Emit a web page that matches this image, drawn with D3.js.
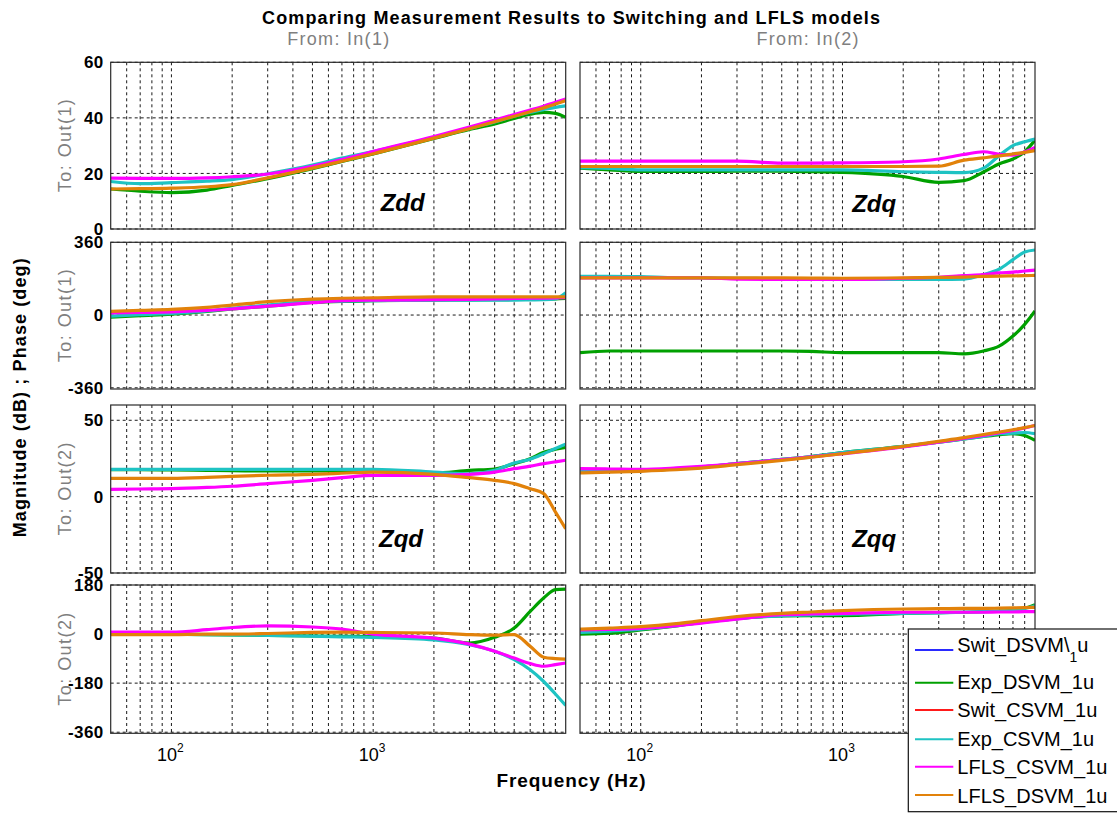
<!DOCTYPE html>
<html>
<head>
<meta charset="utf-8">
<script src="https://cdn.jsdelivr.net/npm/d3@7"></script>
<style>
  html, body { margin: 0; padding: 0; background: #ffffff; }
  svg { display: block; font-family: "Liberation Sans", Arial, Helvetica, sans-serif; }
</style>
</head>
<body>
<svg id="chart" width="1117" height="814"></svg>
<script>
// ---- Frequency points (Hz) shared by every response curve ----
const freqHz = [50, 70, 100, 150, 200, 300, 500, 700, 1000, 2000, 3000, 4000, 5000, 6000, 7000, 8000, 9000];

// ---- Zdd : magnitude (dB) ----
const zddMagExpDSVM  = [14.4, 13.6, 13.1, 14.0, 15.7, 18.1, 21.7, 24.3, 27.0, 32.6, 35.8, 37.8, 39.8, 41.3, 42.0, 41.6, 40.2];
const zddMagExpCSVM  = [17.1, 16.3, 16.7, 17.2, 17.8, 19.9, 23.0, 25.5, 27.9, 33.0, 36.2, 38.5, 40.6, 42.0, 43.0, 43.8, 44.3];
const zddMagLflsCSVM = [18.3, 18.2, 18.2, 18.4, 18.8, 19.8, 22.6, 25.0, 27.9, 33.3, 36.7, 39.2, 41.2, 42.8, 44.2, 45.6, 46.8];
const zddMagLflsDSVM = [14.4, 14.5, 14.7, 15.2, 16.0, 18.4, 21.9, 24.4, 27.1, 32.7, 36.1, 38.6, 40.6, 42.2, 43.6, 45.0, 46.2];

// ---- Zdq : magnitude (dB) ----
const zdqMagExpDSVM  = [21.9, 21.3, 20.7, 20.7, 20.7, 20.8, 20.8, 20.6, 20.4, 18.9, 16.8, 17.4, 20.5, 23.5, 25.2, 27.8, 32.0];
const zdqMagExpCSVM  = [22.1, 21.8, 21.3, 21.3, 21.3, 21.3, 21.3, 21.3, 21.3, 20.6, 20.4, 20.3, 21.9, 26.5, 30.0, 31.4, 32.4];
const zdqMagLflsCSVM = [24.4, 24.4, 24.4, 24.4, 24.4, 24.4, 23.7, 23.7, 23.8, 24.2, 25.2, 26.8, 27.8, 26.9, 26.6, 27.8, 29.4];
const zdqMagLflsDSVM = [22.5, 22.5, 22.5, 22.5, 22.5, 22.5, 22.5, 22.5, 22.5, 22.5, 22.6, 24.8, 25.6, 26.3, 27.0, 27.6, 28.2];

// ---- Zdd : phase (deg) ----
const zddPhExpDSVM  = [-11, -3, 5, 18, 30, 44, 62, 68, 71, 74, 75, 76, 77, 78, 79, 80, 82];
const zddPhExpCSVM  = [-5, 2, 8, 20, 33, 49, 66, 69, 71, 74, 74, 74, 74, 75, 76, 80, 110];
const zddPhLflsCSVM = [11, 13, 16, 23, 30, 44, 61, 71, 74, 76, 78, 80, 82, 83, 84, 85, 86];
const zddPhLflsDSVM = [18, 23, 28, 38, 49, 66, 79, 83, 85, 90, 90, 90, 90, 90, 90, 90, 90];

// ---- Zdq : phase (deg) ----
const zdqPhExpDSVM  = [-186, -178, -178, -178, -178, -178, -178, -180, -186, -186, -186, -192, -178, -153, -104, -46, 20];
const zdqPhExpCSVM  = [192, 192, 190, 184, 184, 182, 180, 178, 176, 176, 176, 178, 200, 228, 274, 312, 322];
const zdqPhLflsCSVM = [184, 184, 184, 184, 184, 178, 176, 176, 176, 182, 187, 195, 200, 209, 212, 218, 222];
const zdqPhLflsDSVM = [184, 184, 184, 184, 184, 184, 184, 183, 182, 184, 186, 188, 191, 193, 194, 195, 196];

// ---- Zqd : magnitude (dB) ----
const zqdMagExpDSVM  = [17.6, 17.6, 17.5, 17.2, 17.0, 16.8, 16.8, 16.8, 16.8, 15.5, 17.2, 18.1, 21.6, 24.8, 29.0, 31.0, 32.3];
const zqdMagExpCSVM  = [17.9, 17.9, 17.9, 17.9, 17.9, 17.9, 17.9, 17.9, 17.9, 16.1, 15.0, 17.2, 22.0, 24.5, 28.1, 31.5, 34.3];
const zqdMagLflsCSVM = [4.8, 5.0, 5.2, 6.0, 6.8, 8.5, 10.7, 12.4, 13.9, 13.9, 14.6, 16.1, 18.3, 20.0, 21.6, 22.8, 23.8];
const zqdMagLflsDSVM = [12.0, 12.0, 12.0, 12.6, 13.3, 14.0, 14.6, 15.3, 16.1, 14.6, 12.4, 10.7, 8.5, 5.2, 2.0, -10.0, -21.0];

// ---- Zqq : magnitude (dB) ----
const zqqMagExpDSVM  = [16.8, 17.0, 17.2, 18.2, 19.4, 21.6, 24.4, 26.3, 28.8, 32.9, 35.7, 37.8, 39.4, 40.6, 41.2, 40.0, 36.8];
const zqqMagExpCSVM  = [16.8, 17.0, 17.2, 18.2, 19.4, 21.6, 24.4, 26.3, 28.8, 32.9, 35.7, 37.8, 39.4, 41.2, 41.6, 42.0, 41.2];
const zqqMagLflsCSVM = [18.3, 18.1, 17.9, 18.8, 19.8, 21.6, 24.2, 26.0, 28.1, 32.5, 35.7, 38.1, 40.1, 41.8, 43.4, 45.0, 46.6];
const zqqMagLflsDSVM = [15.5, 16.0, 16.6, 17.6, 18.7, 20.9, 23.7, 25.8, 28.1, 32.9, 36.2, 38.6, 40.7, 42.3, 43.8, 45.2, 46.6];

// ---- Zqd : phase (deg) ----
const zqdPhExpDSVM  = [0, 0, -1, -2, -3, -5, -7, -8, -9, -15, -33, -12, 22, 83, 132, 163, 165];
const zqdPhExpCSVM  = [0, 0, -1, -2, -3, -5, -8, -10, -12, -21, -39, -63, -94, -131, -174, -220, -262];
const zqdPhLflsCSVM = [7, 7, 7, 16, 24, 30, 26, 18, 0, -15, -37, -63, -88, -108, -118, -112, -106];
const zqdPhLflsDSVM = [-2, -2, -2, 0, 0, 2, 6, 7, 6, 4, -2, -4, -2, -45, -85, -90, -92];

// ---- Zqq : phase (deg) ----
const zqqPhExpDSVM  = [0, 3, 15, 30, 43, 57, 67, 68, 68, 76, 79, 80, 82, 84, 86, 95, 108];
const zqqPhExpCSVM  = [6, 11, 18, 31, 43, 57, 67, 70, 73, 76, 78, 80, 82, 84, 86, 94, 104];
const zqqPhLflsCSVM = [15, 17, 21, 31, 40, 55, 71, 74, 76, 80, 80, 80, 80, 81, 81, 82, 82];
const zqqPhLflsDSVM = [18, 22, 27, 38, 49, 64, 76, 81, 86, 92, 93, 94, 94, 95, 96, 97, 98];

// ---- Legend entries and colours ----
const legendNames  = ["Swit_DSVM\\", "Exp_DSVM_1u", "Swit_CSVM_1u", "Exp_CSVM_1u", "LFLS_CSVM_1u", "LFLS_DSVM_1u"];
const legendColors = ["#2a2aff", "#00a000", "#ff1a1a", "#1ec3c3", "#ff00ff", "#e2820a"];
// curves drawn in each panel: Exp_DSVM, Exp_CSVM, LFLS_CSVM, LFLS_DSVM
const curveColors  = ["#00a000", "#1ec3c3", "#ff00ff", "#e2820a"];

// ---- Axis tick values ----
const magTicksTop    = [0, 20, 40, 60];
const phaseTicksTop  = [-360, 0, 360];
const magTicksBot    = [-50, 0, 50];
const phaseTicksBot  = [-360, -180, 0, 180];
const freqGridHz     = [60, 70, 80, 90, 100, 200, 300, 400, 500, 600, 700, 800, 900,
                        1000, 2000, 3000, 4000, 5000, 6000, 7000, 8000];
const freqLabelPow   = [2, 3];

// ---- Layout ----
const svg = d3.select("#chart");
const cols = [{ x0: 110.7, x1: 565.7 }, { x0: 580, x1: 1035 }];
const rows = [
  { top: 62.3,  bottom: 229,   domain: [0, 60],     ticks: magTicksTop },
  { top: 242.3, bottom: 389,   domain: [-366, 360], ticks: phaseTicksTop },
  { top: 405,   bottom: 573,   domain: [-50, 60],   ticks: magTicksBot },
  { top: 585,   bottom: 733.3, domain: [-364, 180], ticks: phaseTicksBot }
];
const xScales = cols.map(c => d3.scaleLog().domain([50, 9000]).range([c.x0, c.x1]));
const yScales = rows.map(r => d3.scaleLinear().domain(r.domain).range([r.bottom, r.top]));

const panels = [
  { row: 0, col: 0, series: [zddMagExpDSVM, zddMagExpCSVM, zddMagLflsCSVM, zddMagLflsDSVM], tag: "Zdd", tagAt: [1400, 6.6] },
  { row: 0, col: 1, series: [zdqMagExpDSVM, zdqMagExpCSVM, zdqMagLflsCSVM, zdqMagLflsDSVM], tag: "Zdq", tagAt: [1435, 6.0] },
  { row: 1, col: 0, series: [zddPhExpDSVM, zddPhExpCSVM, zddPhLflsCSVM, zddPhLflsDSVM] },
  { row: 1, col: 1, series: [zdqPhExpDSVM, zdqPhExpCSVM, zdqPhLflsCSVM, zdqPhLflsDSVM] },
  { row: 2, col: 0, series: [zqdMagExpDSVM, zqdMagExpCSVM, zqdMagLflsCSVM, zqdMagLflsDSVM], tag: "Zqd", tagAt: [1374, -32.8] },
  { row: 2, col: 1, series: [zqqMagExpDSVM, zqqMagExpCSVM, zqqMagLflsCSVM, zqqMagLflsDSVM], tag: "Zqq", tagAt: [1435, -33.0] },
  { row: 3, col: 0, series: [zqdPhExpDSVM, zqdPhExpCSVM, zqdPhLflsCSVM, zqdPhLflsDSVM] },
  { row: 3, col: 1, series: [zqqPhExpDSVM, zqqPhExpCSVM, zqqPhLflsCSVM, zqqPhLflsDSVM] }
];

const defs = svg.append("defs");

panels.forEach((p, i) => {
  const x = xScales[p.col], y = yScales[p.row];
  const r = rows[p.row], c = cols[p.col];
  const g = svg.append("g");

  defs.append("clipPath").attr("id", "clip" + i)
    .append("rect").attr("x", c.x0).attr("y", r.top)
    .attr("width", c.x1 - c.x0).attr("height", r.bottom - r.top);

  // grid
  const grid = g.append("g").attr("stroke", "#1a1a1a").attr("stroke-width", 1)
    .attr("stroke-dasharray", "3,3").attr("fill", "none");
  freqGridHz.forEach(f => {
    grid.append("line").attr("x1", x(f)).attr("x2", x(f))
      .attr("y1", r.top).attr("y2", r.bottom);
  });
  r.ticks.forEach(t => {
    grid.append("line").attr("x1", c.x0).attr("x2", c.x1)
      .attr("y1", y(t)).attr("y2", y(t));
  });

  // response curves
  const line = d3.line().x((d, k) => x(freqHz[k])).y(d => y(d)).curve(d3.curveMonotoneX);
  const curves = g.append("g").attr("clip-path", `url(#clip${i})`);
  p.series.forEach((s, k) => {
    curves.append("path").datum(s).attr("d", line)
      .attr("fill", "none").attr("stroke", curveColors[k])
      .attr("stroke-width", 3.2).attr("stroke-linejoin", "round");
  });

  // frame
  g.append("rect").attr("x", c.x0).attr("y", r.top)
    .attr("width", c.x1 - c.x0).attr("height", r.bottom - r.top)
    .attr("fill", "none").attr("stroke", "#2b2b2b").attr("stroke-width", 1.2);

  // y tick labels on the left column
  if (p.col === 0) {
    g.selectAll(".ytick").data(r.ticks).enter().append("text")
      .attr("x", c.x0 - 7).attr("y", d => y(d)).attr("dy", "0.36em")
      .attr("text-anchor", "end").attr("font-size", 17).attr("font-weight", "bold")
      .attr("letter-spacing", 0.4).attr("fill", "#000")
      .text(d => String(d));
  }

  // x tick labels on the bottom row
  if (p.row === 3) {
    freqLabelPow.forEach(pw => {
      const t = g.append("text").attr("x", x(Math.pow(10, pw)) - 1).attr("y", 761)
        .attr("text-anchor", "middle").attr("font-size", 18).attr("fill", "#000");
      t.append("tspan").text("10");
      t.append("tspan").attr("dy", -9).attr("font-size", 12).text(String(pw));
    });
  }

  // panel tag
  if (p.tag) {
    g.append("text").attr("x", x(p.tagAt[0])).attr("y", y(p.tagAt[1]))
      .attr("text-anchor", "middle").attr("font-size", 24)
      .attr("font-weight", "bold").attr("font-style", "italic")
      .text(p.tag);
  }
});

// ---- Titles and axis labels ----
svg.append("text").attr("x", 571).attr("y", 23.5).attr("text-anchor", "middle")
  .attr("font-size", 18).attr("font-weight", "bold")
  .attr("textLength", 618).attr("lengthAdjust", "spacing")
  .text("Comparing Measurement Results to Switching and LFLS models");

["From: In(1)", "From: In(2)"].forEach((s, k) => {
  svg.append("text").attr("x", (cols[k].x0 + cols[k].x1) / 2).attr("y", 45)
    .attr("text-anchor", "middle").attr("font-size", 18).attr("fill", "#7f7f7f")
    .attr("textLength", 102).attr("lengthAdjust", "spacing").text(s);
});

["To: Out(1)", "To: Out(1)", "To: Out(2)", "To: Out(2)"].forEach((s, k) => {
  const cy = (rows[k].top + rows[k].bottom) / 2;
  svg.append("text").attr("transform", `translate(71,${cy}) rotate(-90)`)
    .attr("text-anchor", "middle").attr("font-size", 18).attr("fill", "#7f7f7f")
    .attr("textLength", 93).attr("lengthAdjust", "spacing").text(s);
});

svg.append("text").attr("transform", `translate(25.5,${(rows[0].top + rows[3].bottom) / 2}) rotate(-90)`)
  .attr("text-anchor", "middle").attr("font-size", 18).attr("font-weight", "bold")
  .attr("textLength", 279).attr("lengthAdjust", "spacing")
  .text("Magnitude (dB) ; Phase (deg)");

svg.append("text").attr("x", 571).attr("y", 787).attr("text-anchor", "middle")
  .attr("font-size", 19).attr("font-weight", "bold")
  .attr("textLength", 149).attr("lengthAdjust", "spacing")
  .text("Frequency  (Hz)");

// ---- Legend ----
const leg = svg.append("g");
leg.append("rect").attr("x", 908.3).attr("y", 629).attr("width", 230).attr("height", 182.7)
  .attr("fill", "#fff").attr("stroke", "#111").attr("stroke-width", 1.2);
const lineY = [650, 682.7, 710, 739.3, 766.7, 795];
const textY = [651.7, 689.3, 717.3, 746, 774, 802.7];
legendNames.forEach((name, k) => {
  leg.append("line").attr("x1", 915).attr("x2", 953.3)
    .attr("y1", lineY[k]).attr("y2", lineY[k])
    .attr("stroke", legendColors[k]).attr("stroke-width", 2);
  const t = leg.append("text").attr("x", 957.3).attr("y", textY[k])
    .attr("font-size", 20).attr("fill", "#000");
  if (k === 0) {
    t.append("tspan").text(name);
    t.append("tspan").attr("dy", 10).attr("font-size", 14).text("1");
    t.append("tspan").attr("dy", -10).text("u");
  } else {
    t.text(name);
  }
});
</script>
</body>
</html>
